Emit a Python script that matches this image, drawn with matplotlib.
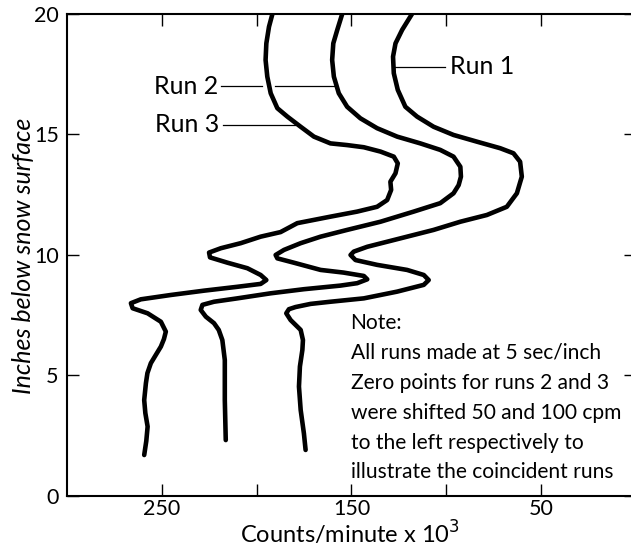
import numpy as np
import matplotlib
matplotlib.use('Agg')
import matplotlib.pyplot as plt

plt.rcParams['font.family'] = ['Lato', 'DejaVu Sans']

# counts/minute x 10^3 (axis runs right to left) against depth in inches
run1_cpm   = [118.1, 123.3, 126.8, 128.1, 127.7, 125.6, 121.6, 115.4, 106.7, 96.2, 83.8, 71.6, 64.6,
              61.1, 60.2, 62.8, 68.1, 78.6, 92.6, 106.7, 124.2, 141.7, 148.8, 150.5, 147.9, 136.5,
              120.7, 111.9, 109.3, 111.9, 125.9, 143.5, 161.1, 171.6, 179.5, 183.0, 184.4, 182.1,
              176.8, 175.6, 175.9, 177.2, 177.7, 176.8, 175.1, 174.2]
run1_depth = [20.0, 19.34, 18.78, 18.23, 17.54, 16.85, 16.15, 15.74, 15.32, 14.98, 14.70, 14.43, 14.22,
              13.87, 13.25, 12.56, 12.0, 11.66, 11.38, 11.04, 10.69, 10.34, 10.14, 10.0, 9.79, 9.59,
              9.38, 9.17, 8.96, 8.76, 8.48, 8.2, 8.06, 7.97, 7.84, 7.75, 7.58, 7.3,
              6.89, 6.47, 6.06, 5.37, 4.54, 3.57, 2.6, 1.91]

run2_cpm   = [154.9, 157.5, 159.6, 160.2, 159.3, 156.7, 152.3, 145.3, 136.5, 125.9, 113.7, 103.2, 96.2,
              92.6, 92.3, 93.5, 96.2, 103.2, 117.2, 134.7, 152.3, 166.3, 176.8, 185.6, 190.0, 189.1,
              180.4, 166.3, 154.2, 143.5, 141.7, 147.0, 155.8, 175.1, 192.6, 210.2, 222.5, 228.6,
              229.5, 226.8, 222.5, 220.0, 218.1, 216.8, 216.8, 216.3]
run2_depth = [20.0, 19.34, 18.78, 18.09, 17.4, 16.71, 16.15, 15.67, 15.26, 14.91, 14.63, 14.36, 14.08,
              13.66, 13.25, 12.9, 12.56, 12.15, 11.8, 11.38, 11.04, 10.76, 10.49, 10.21, 10.0, 9.86,
              9.68, 9.38, 9.27, 9.13, 8.99, 8.83, 8.73, 8.58, 8.41, 8.2, 8.06, 7.93,
              7.72, 7.44, 7.17, 6.89, 6.47, 5.64, 3.98, 2.32]

run3_cpm   = [191.7, 193.5, 194.9, 195.3, 194.4, 192.6, 189.1, 183.8, 176.8, 169.8, 161.1, 152.3, 143.5,
              134.7, 127.7, 125.6, 126.8, 129.5, 129.1, 131.2, 136.5, 147.0, 161.1, 178.6, 187.4, 197.9,
              208.4, 218.9, 225.1, 224.6, 215.4, 204.9, 197.9, 194.9, 197.9, 210.2, 227.7, 245.3,
              261.1, 266.3, 265.4, 257.5, 250.5, 247.9, 248.9, 250.5, 253.2, 255.8, 257.6, 258.4,
              259.3, 258.7, 257.5, 258.2, 259.3]
run3_depth = [20.0, 19.47, 18.78, 18.09, 17.4, 16.71, 16.09, 15.74, 15.32, 14.91, 14.63, 14.56, 14.47,
              14.29, 14.08, 13.8, 13.39, 13.04, 12.7, 12.28, 12.0, 11.8, 11.59, 11.32, 10.95, 10.76,
              10.49, 10.28, 10.1, 9.9, 9.68, 9.45, 9.17, 8.96, 8.8, 8.68, 8.52, 8.34,
              8.16, 8.0, 7.79, 7.58, 7.23, 6.82, 6.51, 6.2, 5.85, 5.51, 5.1, 4.68,
              3.98, 3.44, 2.88, 2.28, 1.7]

x_ticks  = [250, 200, 150, 100, 50]
x_labels = ['250', '', '150', '', '50']
y_ticks  = [0, 5, 10, 15, 20]

note = ('Note:\nAll runs made at 5 sec/inch\nZero points for runs 2 and 3\n'
        'were shifted 50 and 100 cpm\nto the left respectively to\n'
        'illustrate the coincident runs')

fig = plt.figure(figsize=(6.31, 5.5), dpi=100)
ax = fig.add_axes([0.1062, 0.0982, 0.9017, 0.8764])

for xs, ys in [(run1_cpm, run1_depth), (run2_cpm, run2_depth), (run3_cpm, run3_depth)]:
  ax.plot(xs, ys, color='black', lw=3.3, solid_joinstyle='round', solid_capstyle='round')

# label leaders
ax.plot([127.0, 100.5], [17.8, 17.8], color='black', lw=0.9)
ax.plot([219, 197], [17.0, 17.0], color='black', lw=0.9)
ax.plot([190.5, 158.5], [17.0, 17.0], color='black', lw=0.9)
ax.plot([218, 180], [15.4, 15.4], color='black', lw=0.9)
ax.text(98, 17.8, 'Run 1', fontsize=18, va='center', ha='left')
ax.text(220, 17.0, 'Run 2', fontsize=18, va='center', ha='right')
ax.text(219.5, 15.4, 'Run 3', fontsize=18, va='center', ha='right')

ax.text(150.5, 7.6, note, fontsize=15.1, va='top', ha='left', linespacing=1.62)

ax.set_xlim(300, 0)
ax.set_ylim(0, 20)
ax.set_xticks(x_ticks)
ax.set_xticklabels(x_labels)
ax.set_yticks(y_ticks)
ax.tick_params(direction='in', length=8.5, width=1.0, labelsize=15.5, top=True, right=True)
ax.tick_params(axis='x', pad=2)
ax.tick_params(axis='y', pad=6)
for s in ax.spines.values():
  s.set_linewidth(1.5)

ax.set_xlabel('Counts/minute x 10$^3$', fontsize=17, va='baseline')
ax.xaxis.set_label_coords(0.497, -0.098)
ax.set_ylabel('Inches below snow surface', fontsize=18, style='italic', va='center')
ax.yaxis.set_label_coords(-0.077, 0.498)

plt.savefig('out.png', dpi=100)
